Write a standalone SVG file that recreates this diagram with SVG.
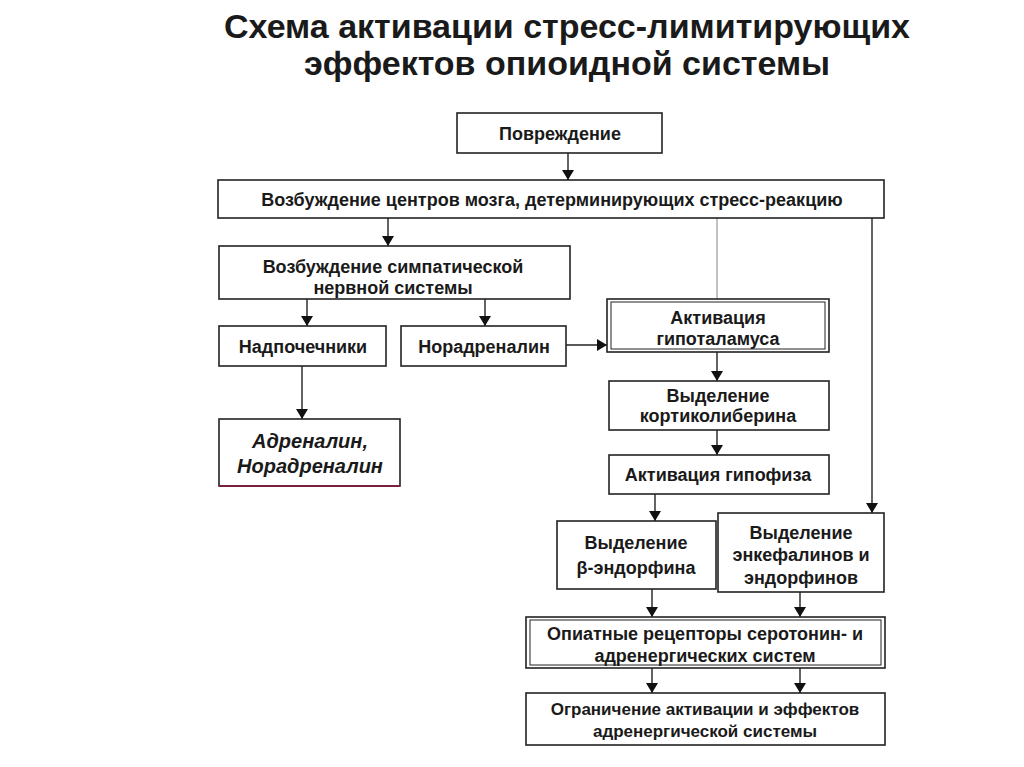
<svg xmlns="http://www.w3.org/2000/svg" width="1024" height="767" viewBox="0 0 1024 767">
<defs>
<marker id="ah" viewBox="0 0 10 12" refX="10" refY="6" markerWidth="10" markerHeight="12" markerUnits="userSpaceOnUse" orient="auto">
<path d="M0,0 L10,6 L0,12 Z" fill="#111"/>
</marker>
</defs>
<style>
.box{fill:#fff;stroke:#222;stroke-width:1.6}
.t{font-family:"Liberation Sans",Arial,sans-serif;font-weight:bold;font-size:18px;fill:#1a1a1a;text-anchor:middle}
.ti{font-style:italic;font-size:20px}
.ts{font-size:17px}
.title{font-family:"Liberation Sans",Arial,sans-serif;font-weight:bold;font-size:34px;fill:#1a1a1a;text-anchor:middle}
.c{stroke:#222;stroke-width:1.4;fill:none}
.c2{stroke:#999;stroke-width:1.2;fill:none}
</style>
<rect width="1024" height="767" fill="#fff"/>
<text class="title" x="567" y="38">Схема активации стресс-лимитирующих</text>
<text class="title" x="567" y="75">эффектов опиоидной системы</text>

<g id="connectors">
<line class="c" x1="568" y1="153" x2="568" y2="180" marker-end="url(#ah)"/>
<line class="c" x1="388" y1="218" x2="388" y2="246" marker-end="url(#ah)"/>
<line class="c2" x1="717" y1="218" x2="717" y2="299"/>
<line class="c" x1="872" y1="218" x2="872" y2="513" marker-end="url(#ah)"/>
<line class="c" x1="307" y1="299" x2="307" y2="326" marker-end="url(#ah)"/>
<line class="c" x1="485" y1="299" x2="485" y2="326" marker-end="url(#ah)"/>
<line class="c" x1="566" y1="345" x2="607" y2="345" marker-end="url(#ah)"/>
<line class="c" x1="302" y1="366" x2="302" y2="419" marker-end="url(#ah)"/>
<line class="c" x1="717" y1="352" x2="717" y2="381" marker-end="url(#ah)"/>
<line class="c" x1="717" y1="430" x2="717" y2="455" marker-end="url(#ah)"/>
<line class="c" x1="655" y1="494" x2="655" y2="521" marker-end="url(#ah)"/>
<line class="c" x1="652" y1="589" x2="652" y2="617" marker-end="url(#ah)"/>
<line class="c" x1="800" y1="592" x2="800" y2="617" marker-end="url(#ah)"/>
<line class="c" x1="652" y1="668" x2="652" y2="693" marker-end="url(#ah)"/>
<line class="c" x1="800" y1="668" x2="800" y2="693" marker-end="url(#ah)"/>
</g>

<g id="n1"><rect class="box" x="457" y="113" width="205" height="40"/><text class="t" x="560" y="140">Повреждение</text></g>
<g id="n2"><rect class="box" x="218" y="180" width="666" height="38"/><text class="t" x="552" y="206">Возбуждение центров мозга, детерминирующих стресс-реакцию</text></g>
<g id="n3"><rect class="box" x="219" y="246" width="351" height="53"/><text class="t" x="393" y="273">Возбуждение симпатической</text><text class="t" x="393" y="294">нервной системы</text></g>
<g id="n4"><rect class="box" x="219" y="326" width="167" height="40"/><text class="t" x="303" y="353">Надпочечники</text></g>
<g id="n5"><rect class="box" x="401" y="326" width="165" height="40"/><text class="t" x="484" y="353">Норадреналин</text></g>
<g id="n6"><rect class="box" x="607" y="299" width="222" height="53"/><rect fill="none" stroke="#222" stroke-width="1" x="611" y="302" width="214" height="47"/><text class="t" x="718" y="324">Активация</text><text class="t" x="718" y="345">гипоталамуса</text></g>
<g id="n7"><rect class="box" x="219" y="419" width="181" height="67"/><line x1="219" y1="486" x2="400" y2="486" stroke="#7a2040" stroke-width="2"/><text class="t ti" x="310" y="448">Адреналин,</text><text class="t ti" x="310" y="473">Норадреналин</text></g>
<g id="n8"><rect class="box" x="609" y="381" width="220" height="49"/><text class="t" x="718" y="402">Выделение</text><text class="t" x="718" y="422">кортиколиберина</text></g>
<g id="n9"><rect class="box" x="609" y="455" width="220" height="39"/><text class="t" x="718" y="481">Активация гипофиза</text></g>
<g id="n10"><rect class="box" x="557" y="521" width="159" height="68"/><text class="t" x="636" y="549">Выделение</text><text class="t" x="636" y="574">β-эндорфина</text></g>
<g id="n11"><rect class="box" x="718" y="513" width="166" height="79"/><text class="t" x="801" y="539">Выделение</text><text class="t" x="801" y="561">энкефалинов и</text><text class="t" x="801" y="584">эндорфинов</text></g>
<g id="n12"><rect class="box" x="526" y="617" width="359" height="51"/><rect fill="none" stroke="#222" stroke-width="1" x="530" y="620" width="351" height="45"/><text class="t" x="705" y="640">Опиатные рецепторы серотонин- и</text><text class="t" x="705" y="662">адренергических систем</text></g>
<g id="n13"><rect class="box" x="526" y="693" width="359" height="52"/><text class="t ts" x="705" y="715">Ограничение активации и эффектов</text><text class="t ts" x="705" y="737">адренергической системы</text></g>
</svg>
